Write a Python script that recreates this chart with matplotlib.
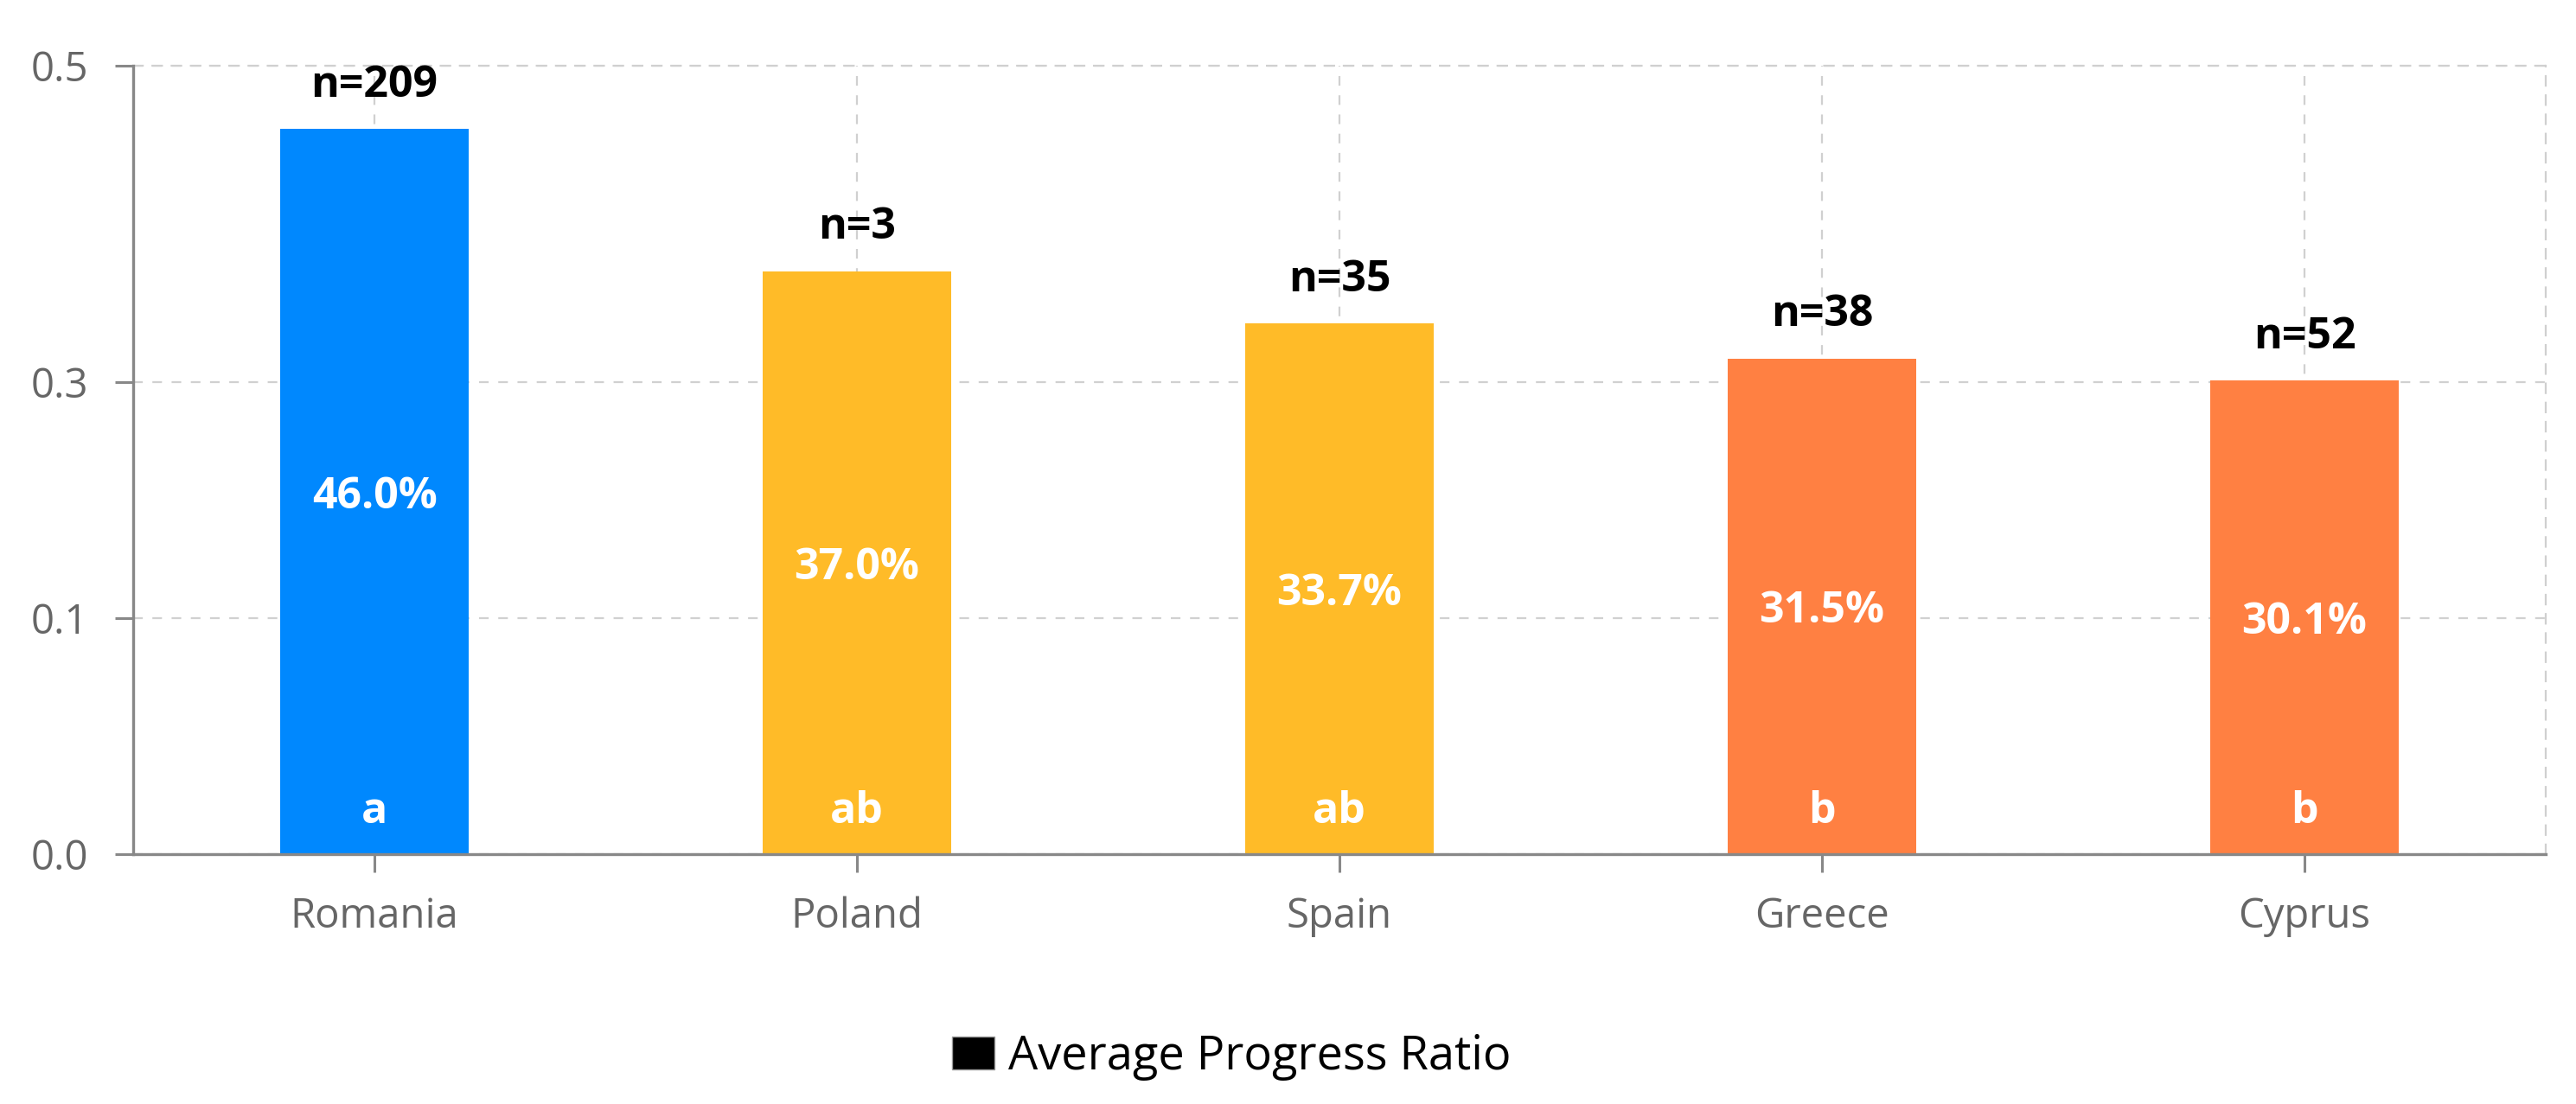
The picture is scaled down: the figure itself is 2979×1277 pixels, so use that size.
import numpy as np
import matplotlib
matplotlib.use("Agg")
import matplotlib.pyplot as plt
from matplotlib.patches import Patch
from matplotlib.transforms import offset_copy

# ---- data ----
countries = ["Romania", "Poland", "Spain", "Greece", "Cyprus"]
ratios = [0.460, 0.370, 0.337, 0.315, 0.301]
sample_sizes = [209, 3, 35, 38, 52]
groups = ["a", "ab", "ab", "b", "b"]
bar_colors = ["#0088FE", "#FFBB28", "#FFBB28", "#FF8042", "#FF8042"]
y_ticks = [0.0, 0.1, 0.3, 0.5]
y_tick_labels = ["0.0", "0.1", "0.3", "0.5"]
legend_label = "Average Progress Ratio"

# piecewise-linear y scale (as in the source chart)
_bp_val = np.array([0.0, 0.1, 0.3, 0.5])
_bp_pos = np.array([0.0, 1.0, 2.0, 2.0 + 366.0 / 273.0])


def fwd(y):
    return np.interp(y, _bp_val, _bp_pos)


def inv(p):
    return np.interp(p, _bp_pos, _bp_val)


plt.rcParams["font.family"] = ["Open Sans", "DejaVu Sans"]

W, H = 2979, 1277
fig = plt.figure(figsize=(W / 100, H / 100), dpi=100)
ax = fig.add_axes([154 / W, 1 - 988 / H, (2944 - 154) / W, (988 - 76) / H])
ax.set_yscale("function", functions=(fwd, inv))

x = np.arange(len(countries))
ax.bar(x, ratios, width=0.39, color=bar_colors, zorder=3)

ax.set_xlim(-0.5, len(countries) - 0.5)
ax.set_ylim(0, 0.5)
ax.set_yticks(y_ticks)
ax.set_yticklabels(y_tick_labels)
ax.set_xticks(x)
ax.set_xticklabels(countries)

axis_grey = "#888888"
grid_grey = "#d0d0d0"
ax.grid(True, color=grid_grey, linestyle=(0, (5, 5)), linewidth=1.6, zorder=0)
ax.tick_params(axis="both", colors=axis_grey, length=15, width=2.2,
               labelcolor="#666666", labelsize=34)
ax.tick_params(axis="y", pad=22)
ax.tick_params(axis="x", pad=20)
for s in ("left", "bottom"):
    ax.spines[s].set_color(axis_grey)
    ax.spines[s].set_linewidth(2.4)
    ax.spines[s].set_zorder(4)
for s in ("top", "right"):
    ax.spines[s].set_color(grid_grey)
    ax.spines[s].set_linewidth(1.6)
    ax.spines[s].set_linestyle((0, (5, 5)))

# labels
above = offset_copy(ax.transData, fig=fig, x=0, y=27, units="points")
bottom_off = offset_copy(ax.transData, fig=fig, x=0, y=26, units="points")
for xi, v, n, g in zip(x, ratios, sample_sizes, groups):
    ax.text(xi, v, f"n={n}", transform=above, ha="center", va="baseline",
            fontsize=36, fontweight="bold", color="black", zorder=5)
    mid = inv(fwd(v) / 2.0)
    ax.text(xi, mid, f"{v * 100:.1f}%", ha="center", va="center_baseline",
            fontsize=36, fontweight="bold", color="white", zorder=5)
    ax.text(xi, 0, g, transform=bottom_off, ha="center", va="baseline",
            fontsize=36, fontweight="bold", color="white", zorder=5)

handle = Patch(facecolor="black", edgecolor="#999999", linewidth=1)
fig.legend(handles=[handle], labels=[legend_label], loc="center",
           bbox_to_anchor=(1424 / W, 1 - 1222 / H), frameon=False,
           fontsize=39, handlelength=0.9, handleheight=0.7, handletextpad=0.3,
           labelcolor="black")

fig.savefig("out.png", dpi=100)
